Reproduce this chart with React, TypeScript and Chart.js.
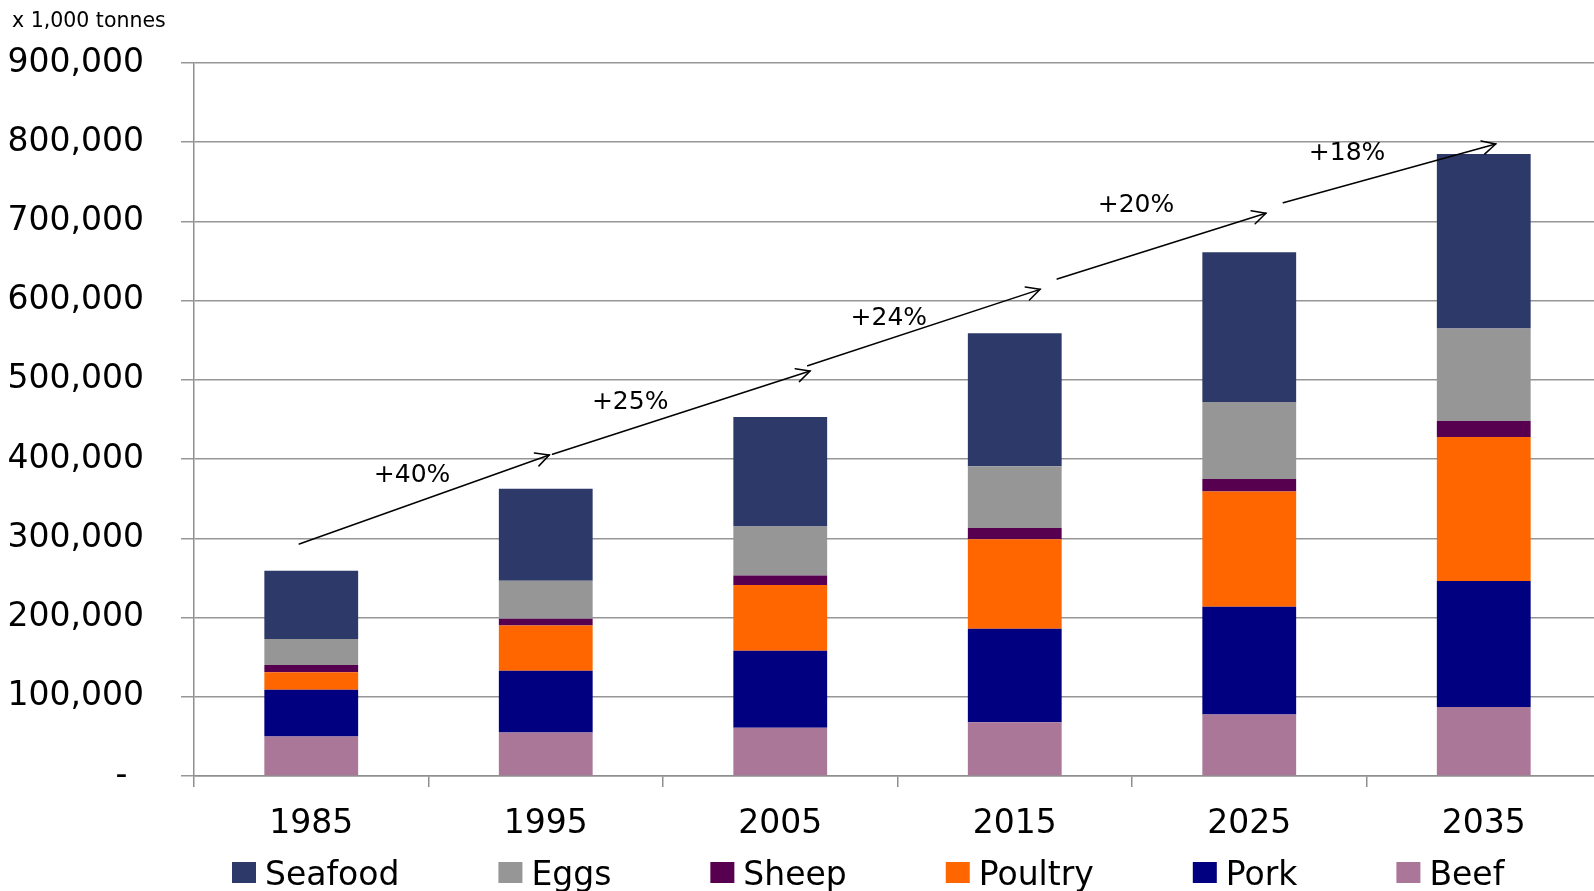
import React, { useEffect, useRef } from 'react';
import { Chart, registerables } from 'chart.js';

Chart.register(...registerables);

// ---- data ----
const categories = ['1985', '1995', '2005', '2015', '2025', '2035'];
const beef = [50000, 55000, 61000, 68000, 77500, 87000];
const pork = [59000, 78000, 97000, 118000, 136000, 159000];
const poultry = [22000, 57000, 83000, 113000, 145500, 182000];
const sheep = [9000, 8500, 12000, 14000, 16000, 20000];
const eggs = [33000, 48000, 62000, 78000, 97000, 117000];
const seafood = [86000, 116000, 138000, 168000, 189000, 220000];

const yMin = 0;
const yMax = 900000;
const yStep = 100000;

const unitLabel = 'x 1,000 tonnes';

// growth arrows (category index, value)
const growthLabels = ['+40%', '+25%', '+24%', '+20%', '+18%'];
const growthLabelIdx = [0.43, 1.36, 2.463, 3.517, 4.417];
const growthLabelVal = [382000, 474000, 581000, 723000, 789500];
const arrowFromIdx = [-0.051, 1.029, 2.117, 3.181, 4.145];
const arrowFromVal = [292900, 406100, 517900, 627400, 723700];
const arrowToIdx = [1.015, 2.127, 3.108, 4.071, 5.051];
const arrowToVal = [405200, 511200, 614300, 710300, 797800];

const FONT = '"DejaVu Sans", Verdana, sans-serif';

const overlayPlugin = {
  id: 'overlay',
  afterDatasetsDraw(chart: any) {
    const { ctx } = chart;
    const xs = chart.scales.x;
    const ys = chart.scales.y;
    ctx.save();
    ctx.strokeStyle = '#000';
    ctx.lineWidth = 1.5;
    ctx.lineCap = 'round';
    for (let i = 0; i < arrowFromIdx.length; i++) {
      const x1 = xs.getPixelForValue(arrowFromIdx[i]);
      const y1 = ys.getPixelForValue(arrowFromVal[i]);
      const x2 = xs.getPixelForValue(arrowToIdx[i]);
      const y2 = ys.getPixelForValue(arrowToVal[i]);
      ctx.beginPath();
      ctx.moveTo(x1, y1);
      ctx.lineTo(x2, y2);
      ctx.stroke();
      const ang = Math.atan2(y2 - y1, x2 - x1);
      const head = 15;
      const spread = 0.47;
      ctx.beginPath();
      ctx.moveTo(x2 - head * Math.cos(ang - spread), y2 - head * Math.sin(ang - spread));
      ctx.lineTo(x2, y2);
      ctx.lineTo(x2 - head * Math.cos(ang + spread), y2 - head * Math.sin(ang + spread));
      ctx.stroke();
    }
    ctx.fillStyle = '#000';
    ctx.font = `25px ${FONT}`;
    ctx.textAlign = 'center';
    ctx.textBaseline = 'alphabetic';
    for (let i = 0; i < growthLabels.length; i++) {
      const x = xs.getPixelForValue(growthLabelIdx[i]);
      const y = ys.getPixelForValue(growthLabelVal[i]);
      ctx.fillText(growthLabels[i], x, y + 0.36 * 25);
    }
    ctx.restore();
  },
  afterDraw(chart: any) {
    const { ctx } = chart;
    ctx.save();
    ctx.fillStyle = '#000';
    ctx.textAlign = 'left';
    ctx.textBaseline = 'alphabetic';
    ctx.font = `20.5px ${FONT}`;
    ctx.fillText(unitLabel, 12, 26.5);

    // legend (reverse of stacking order)
    ctx.font = `33px ${FONT}`;
    const ds = chart.data.datasets.slice().reverse();
    let x = 232;
    const boxW = 24;
    const boxH = 21;
    const boxTop = 862;
    const baseline = 885;
    ds.forEach((d: any) => {
      ctx.fillStyle = d.backgroundColor;
      ctx.fillRect(x, boxTop, boxW, boxH);
      ctx.fillStyle = '#000';
      ctx.fillText(d.label, x + boxW + 9, baseline);
      x += boxW + 9 + ctx.measureText(d.label).width + 99;
    });
    ctx.restore();
  },
};

export default function App() {
  const ref = useRef<HTMLCanvasElement | null>(null);
  useEffect(() => {
    if (!ref.current) return;
    Chart.defaults.font.family = FONT;
    const chart = new Chart(ref.current, {
      type: 'bar',
      data: {
        labels: categories,
        datasets: [
          { label: 'Beef', data: beef, backgroundColor: '#AA7799' },
          { label: 'Pork', data: pork, backgroundColor: '#000080' },
          { label: 'Poultry', data: poultry, backgroundColor: '#FF6600' },
          { label: 'Sheep', data: sheep, backgroundColor: '#580050' },
          { label: 'Eggs', data: eggs, backgroundColor: '#969696' },
          { label: 'Seafood', data: seafood, backgroundColor: '#2D3A69' },
        ],
      },
      options: {
        responsive: false,
        animation: false,
        devicePixelRatio: 1,
        layout: { padding: { top: 63, left: 0, right: 9, bottom: 0 } },
        datasets: { bar: { barPercentage: 0.4, categoryPercentage: 1.0 } },
        plugins: {
          legend: { display: false },
          tooltip: { enabled: false },
          title: { display: false },
        },
        scales: {
          x: {
            stacked: true,
            offset: true,
            grid: {
              offset: true,
              drawOnChartArea: false,
              drawTicks: true,
              tickLength: 11,
              color: '#8f8f8f',
              lineWidth: 1.5,
            },
            border: { display: true, color: '#8f8f8f', width: 1.5 },
            ticks: {
              color: '#000',
              font: { size: 33, family: FONT },
              padding: 18,
              maxRotation: 0,
            },
            afterFit: (s: any) => {
              s.height = 115;
            },
          },
          y: {
            stacked: true,
            min: yMin,
            max: yMax,
            grid: {
              color: '#969696',
              lineWidth: 1.5,
              tickLength: 13,
              drawTicks: true,
            },
            border: { display: true, color: '#8f8f8f', width: 1.5 },
            ticks: {
              stepSize: yStep,
              color: '#000',
              font: { size: 33, family: FONT },
              padding: 37,
              callback: (v: any) => (Number(v) === 0 ? '-\u2002' : Number(v).toLocaleString('en-US')),
            },
            afterFit: (s: any) => {
              s.width = 194;
            },
          },
        },
      },
      plugins: [overlayPlugin],
    });
    return () => chart.destroy();
  }, []);
  return (
    <div
      style={{
        position: 'fixed',
        left: 0,
        top: 0,
        width: 1594,
        height: 891,
        overflow: 'hidden',
        background: '#fff',
      }}
    >
      <canvas ref={ref} width={1610} height={891} style={{ display: 'block', width: 1610, height: 891 }} />
    </div>
  );
}
